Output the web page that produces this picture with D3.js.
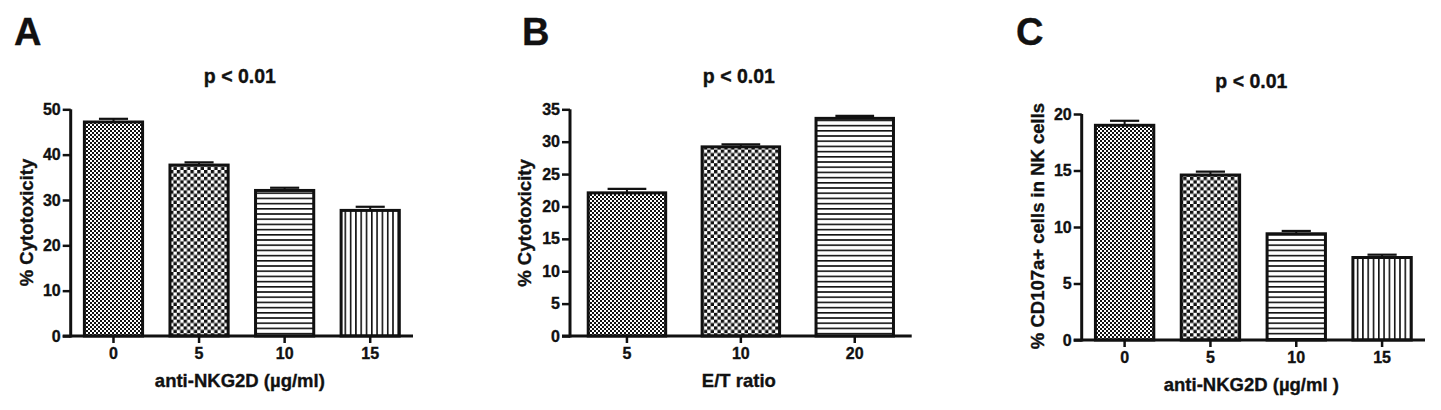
<!DOCTYPE html>
<html><head><meta charset="utf-8">
<script src="https://cdn.jsdelivr.net/npm/d3@7"></script>
<style>body{margin:0;background:#fff}svg{display:block}text{font-family:"Liberation Sans",Arial,sans-serif;font-weight:bold;fill:#111}</style>
</head><body>
<script>
// ---- data ----
const catsA = ["0","5","10","15"];
const valsA = [47.2, 37.7, 32.1, 27.7];
const errA  = [0.7, 0.6, 0.6, 0.8];
const ticksA = [0,10,20,30,40,50];
const patsA = ["fine","coarse","hlines","vlines"];

const catsB = ["5","10","20"];
const valsB = [22.1, 29.2, 33.6];
const errB  = [0.6, 0.4, 0.4];
const ticksB = [0,5,10,15,20,25,30,35];
const patsB = ["fine","coarse","hlines"];

const catsC = ["0","5","10","15"];
const valsC = [19.0, 14.6, 9.4, 7.3];
const errC  = [0.4, 0.3, 0.25, 0.25];
const ticksC = [0,5,10,15,20];
const patsC = ["fine","coarse","hlines","vlines"];

const W = 1441, H = 410;
const svg = d3.select("body").append("svg").attr("width", W).attr("height", H);
const defs = svg.append("defs");

// patterns
function checker(id, s){
  const p = defs.append("pattern").attr("id", id).attr("patternUnits","userSpaceOnUse")
    .attr("width", 2*s).attr("height", 2*s);
  p.append("rect").attr("width",2*s).attr("height",2*s).attr("fill","#fff");
  p.append("rect").attr("x",0).attr("y",0).attr("width",s).attr("height",s).attr("fill","#111");
  p.append("rect").attr("x",s).attr("y",s).attr("width",s).attr("height",s).attr("fill","#111");
}
checker("fine", 2);
checker("coarse", 3.4);
(function(){
  const p = defs.append("pattern").attr("id","hlines").attr("patternUnits","userSpaceOnUse").attr("width",10).attr("height",5.2);
  p.append("rect").attr("width",10).attr("height",5.2).attr("fill","#fff");
  p.append("rect").attr("y",0).attr("width",10).attr("height",1.6).attr("fill","#111");
  const q = defs.append("pattern").attr("id","vlines").attr("patternUnits","userSpaceOnUse").attr("width",5.3).attr("height",10);
  q.append("rect").attr("width",5.3).attr("height",10).attr("fill","#fff");
  q.append("rect").attr("x",0).attr("width",1.6).attr("height",10).attr("fill","#111");
})();

function styleText(sel, size){
  sel.style("font-size", size + "px").style("font-family", "'Liberation Sans', Arial, sans-serif")
     .style("font-weight", "bold").style("fill", "#111")
     .style("stroke", "#111").style("stroke-width", "0.35px");
}

function panel(o){
  const g = svg.append("g");
  const x = d3.scaleBand().domain(o.cats).range([o.x0, o.x1]).paddingInner(0.32).paddingOuter(0.16);
  const y = d3.scaleLinear().domain([0, d3.max(o.ticks)]).range([o.y0, o.y1]);

  // bars
  const bars = g.selectAll("g.bar").data(o.vals).join("g");
  bars.append("line")
    .attr("x1",(d,i)=>x(o.cats[i])+x.bandwidth()/2).attr("x2",(d,i)=>x(o.cats[i])+x.bandwidth()/2)
    .attr("y1",d=>y(d)).attr("y2",(d,i)=>y(d+o.err[i])).attr("stroke","#111").attr("stroke-width",2);
  bars.append("line")
    .attr("x1",(d,i)=>x(o.cats[i])+x.bandwidth()*0.25).attr("x2",(d,i)=>x(o.cats[i])+x.bandwidth()*0.75)
    .attr("y1",(d,i)=>y(d+o.err[i])).attr("y2",(d,i)=>y(d+o.err[i])).attr("stroke","#111").attr("stroke-width",2.2);
  bars.append("rect")
    .attr("x",(d,i)=>x(o.cats[i])).attr("width",x.bandwidth())
    .attr("y",d=>y(d)).attr("height",d=>y(0)-y(d))
    .attr("fill",(d,i)=>`url(#${o.pats[i]})`).attr("stroke","#111").attr("stroke-width",3);

  // y axis
  const ya = g.append("g").attr("transform",`translate(${o.x0},0)`)
    .call(d3.axisLeft(y).tickValues(o.ticks).tickSize(8).tickPadding(2).tickFormat(d3.format("d")));
  ya.select(".domain").attr("stroke","#111").attr("stroke-width",3).attr("d",`M0,${o.y0+1.5}V${o.y1}`);
  ya.selectAll(".tick line").attr("stroke","#111").attr("stroke-width",2.5);
  styleText(ya.selectAll(".tick text"), 16);

  // x axis
  const xa = g.append("g").attr("transform",`translate(0,${o.y0})`)
    .call(d3.axisBottom(x).tickSize(7).tickPadding(5));
  xa.select(".domain").attr("stroke","#111").attr("stroke-width",3).attr("d",`M${o.x0-8},0H${o.x1}`);
  xa.selectAll(".tick line").attr("stroke","#111").attr("stroke-width",2.5);
  styleText(xa.selectAll(".tick text"), 16);

  // texts
  styleText(g.append("text").attr("x",o.letterX).attr("y",45).text(o.letter), 38);
  styleText(g.append("text").attr("x",(o.x0+o.x1)/2 - 2).attr("y",o.titleY).attr("text-anchor","middle").text("p < 0.01"), 19.5);
  styleText(g.append("text").attr("x",(o.x0+o.x1)/2 - 2).attr("y",o.xlabY).attr("text-anchor","middle").text(o.xlab), 18.5);
  styleText(g.append("text").attr("transform",`translate(${o.ylabX},${o.ylabY}) rotate(-90)`).attr("text-anchor","middle")
    .attr("dy","0.35em").text(o.ylab), 18.5);
}

panel({cats:catsA, vals:valsA, err:errA, ticks:ticksA, pats:patsA, x0:70.7, x1:413, y0:336, y1:109.3,
  letter:"A", letterX:14, titleY:82.5, xlab:"anti-NKG2D (µg/ml)", xlabY:386.5, ylab:"% Cytotoxicity", ylabX:27, ylabY:222.5});
panel({cats:catsB, vals:valsB, err:errB, ticks:ticksB, pats:patsB, x0:570, x1:911.7, y0:336, y1:109.3,
  letter:"B", letterX:522, titleY:82.5, xlab:"E/T ratio", xlabY:386.5, ylab:"% Cytotoxicity", ylabX:525, ylabY:223});
panel({cats:catsC, vals:valsC, err:errC, ticks:ticksC, pats:patsC, x0:1081.7, x1:1425, y0:340, y1:114,
  letter:"C", letterX:1016, titleY:88.3, xlab:"anti-NKG2D (µg/ml )", xlabY:390.5, ylab:"% CD107a+ cells in NK cells", ylabX:1037.5, ylabY:226});
</script>
</body></html>
